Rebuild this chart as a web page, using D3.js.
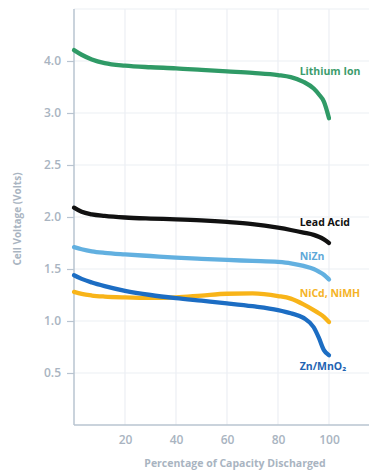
<!DOCTYPE html>
<html>
<head>
<meta charset="utf-8">
<script src="https://cdn.jsdelivr.net/npm/d3@7/dist/d3.min.js"></script>
<style>
  html, body { margin: 0; padding: 0; background: #fff; }
  svg { display: block; }
  text { font-family: "Open Sans", Lato, sans-serif; }
</style>
</head>
<body>
<svg id="chart" width="369" height="471"></svg>
<script>
// ---- data ----
const pctDischarged = [0, 3, 7, 12, 20, 30, 40, 50, 60, 70, 80, 85, 90, 94, 96, 98, 100];
const lithiumIon = [4.21, 4.12, 4.03, 3.96, 3.91, 3.88, 3.86, 3.83, 3.80, 3.77, 3.73, 3.69, 3.60, 3.47, 3.36, 3.22, 2.95];
const leadAcid   = [2.09, 2.05, 2.025, 2.01, 1.995, 1.985, 1.978, 1.968, 1.953, 1.932, 1.897, 1.875, 1.85, 1.828, 1.81, 1.785, 1.75];
const niZn       = [1.71, 1.69, 1.67, 1.655, 1.64, 1.625, 1.61, 1.598, 1.587, 1.578, 1.568, 1.555, 1.53, 1.50, 1.475, 1.445, 1.40];
const niCdNiMH   = [1.28, 1.26, 1.245, 1.235, 1.227, 1.222, 1.228, 1.245, 1.262, 1.265, 1.24, 1.215, 1.16, 1.105, 1.075, 1.04, 0.99];
const znMnO2     = [1.44, 1.405, 1.37, 1.335, 1.29, 1.25, 1.22, 1.195, 1.17, 1.142, 1.105, 1.075, 1.03, 0.94, 0.84, 0.72, 0.67];
const seriesNames = ["Lithium Ion", "Lead Acid", "NiZn", "NiCd, NiMH", "Zn/MnO\u2082"];
const xTicks = [20, 40, 60, 80, 100];
const yTicks = [0.5, 1.0, 1.5, 2.0, 2.5, 3.0, 4.0];
const yTickLabels = ["0.5", "1.0", "1.5", "2.0", "2.5", "3.0", "4.0"];
const yAxisBreaks = [0, 0.5, 1.0, 1.5, 2.0, 2.5, 3.0, 4.0, 5.0]; // evenly spaced on the chart
const xTitle = "Percentage of Capacity Discharged";
const yTitle = "Cell Voltage (Volts)";

// ---- styles ----
const lineColors  = ["#2f9a66", "#111111", "#62b0e0", "#f8b419", "#1c6dc3"];
const labelColors = ["#3c9c6c", "#111111", "#5ea8d8", "#f5b326", "#2363b2"];

const svg = d3.select("#chart");
const W = 369;
const mLeft = 74, mBottom = 425, mTop = 9;

const x = d3.scaleLinear().domain([0, 100]).range([mLeft, 329]);
const yRange = yAxisBreaks.map((d, i) => mBottom - i * (mBottom - mTop) / (yAxisBreaks.length - 1));
const y = d3.scaleLinear().domain(yAxisBreaks).range(yRange);

const gridColor = "#eceff3";
const axisColor = "#b9c4d0";
const tickTextColor = "#a9b4c1";

// grid
const grid = svg.append("g");
grid.selectAll("line.h").data(yTicks.concat([5.0])).join("line")
  .attr("x1", mLeft).attr("x2", W)
  .attr("y1", d => y(d)).attr("y2", d => y(d))
  .attr("stroke", gridColor).attr("stroke-width", 1.2);
grid.selectAll("line.v").data(xTicks).join("line")
  .attr("x1", d => x(d)).attr("x2", d => x(d))
  .attr("y1", mTop).attr("y2", mBottom)
  .attr("stroke", gridColor).attr("stroke-width", 1.2);

// y axis
const yAxis = d3.axisLeft(y).tickValues(yTicks)
  .tickFormat((d, i) => yTickLabels[i]).tickSize(7).tickPadding(6);
const gy = svg.append("g").attr("transform", `translate(${mLeft},0)`).call(yAxis);
gy.select(".domain").remove();
gy.selectAll(".tick line").attr("stroke", axisColor).attr("stroke-width", 1.2);
gy.selectAll(".tick text").attr("fill", tickTextColor)
  .style("font-size", "12px").style("font-weight", "600").style("font-family", "'Open Sans', sans-serif");
svg.append("line").attr("x1", mLeft).attr("x2", mLeft).attr("y1", mTop).attr("y2", mBottom)
  .attr("stroke", axisColor).attr("stroke-width", 1.5);

// x axis
const xAxis = d3.axisBottom(x).tickValues(xTicks).tickSize(0).tickPadding(10);
const gx = svg.append("g").attr("transform", `translate(0,${mBottom})`).call(xAxis);
gx.select(".domain").remove();
gx.selectAll(".tick text").attr("fill", tickTextColor)
  .style("font-size", "12px").style("font-weight", "600").style("font-family", "'Open Sans', sans-serif");
svg.append("line").attr("x1", mLeft).attr("x2", W).attr("y1", mBottom).attr("y2", mBottom)
  .attr("stroke", axisColor).attr("stroke-width", 1.5);

// titles
svg.append("text").attr("x", 235).attr("y", 467).attr("text-anchor", "middle")
  .attr("fill", tickTextColor).style("font-size", "10.5px").style("font-weight", "700")
  .text(xTitle);
svg.append("text").attr("transform", "translate(21,219) rotate(-90)").attr("text-anchor", "middle")
  .attr("fill", tickTextColor).style("font-size", "10px").style("font-weight", "700")
  .text(yTitle);

// lines
const allSeries = [lithiumIon, leadAcid, niZn, niCdNiMH, znMnO2];
const line = d3.line().x((d, i) => x(pctDischarged[i])).y(d => y(d)).curve(d3.curveMonotoneX);
svg.append("g").selectAll("path").data(allSeries).join("path")
  .attr("d", d => line(d))
  .attr("fill", "none")
  .attr("stroke", (d, i) => lineColors[i])
  .attr("stroke-width", 4.3)
  .attr("stroke-linecap", "round");

// labels (placed relative to the data through the scales)
const labelPos = [
  { px: 88.5, v: 3.81 },
  { px: 88.5, v: 1.945 },
  { px: 88.5, v: 1.625 },
  { px: 88.5, v: 1.27 },
  { px: 88.5, v: 0.56 }
];
svg.append("g").selectAll("text").data(seriesNames).join("text")
  .attr("x", (d, i) => x(labelPos[i].px))
  .attr("y", (d, i) => y(labelPos[i].v))
  .attr("dy", "0.35em")
  .attr("fill", (d, i) => labelColors[i])
  .style("font-size", "10.5px").style("font-weight", "700")
  .text(d => d);
</script>
</body>
</html>
